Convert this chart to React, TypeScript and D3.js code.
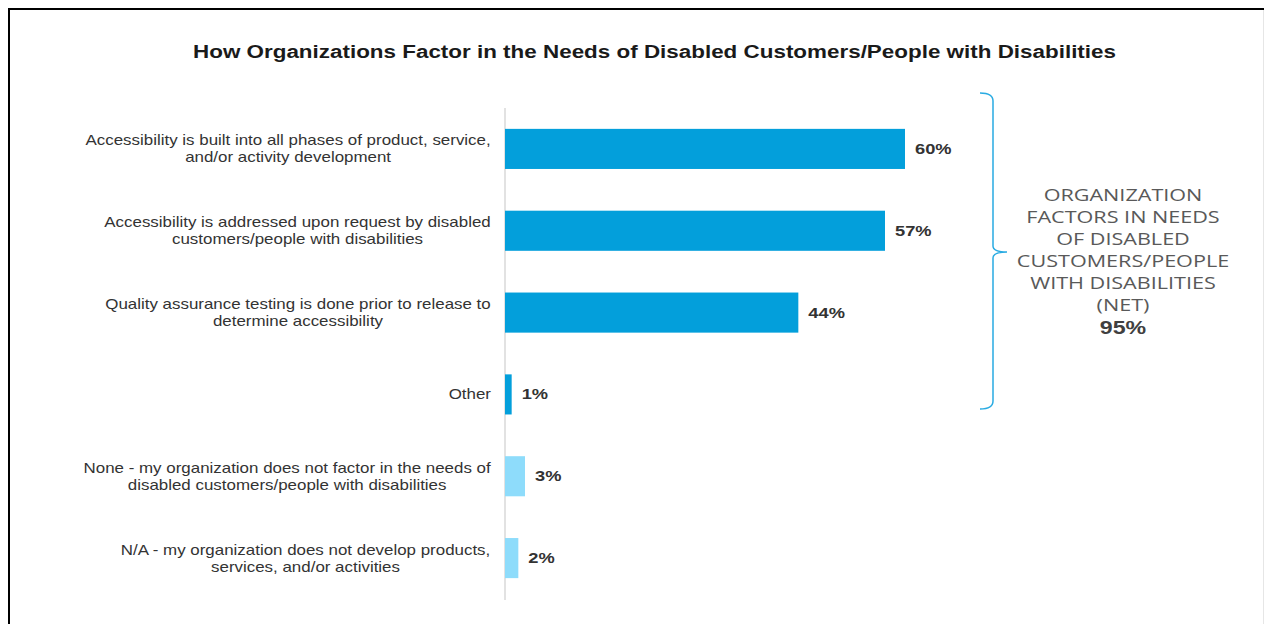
import React from "react";
import * as d3 from "d3";

const categories: string[][] = [
  ["Accessibility is built into all phases of product, service,", "and/or activity development"],
  ["Accessibility is addressed upon request by disabled", "customers/people with disabilities"],
  ["Quality assurance testing is done prior to release to", "determine accessibility"],
  ["Other"],
  ["None - my organization does not factor in the needs of", "disabled customers/people with disabilities"],
  ["N/A - my organization does not develop products,", "services, and/or activities"],
];
const values: number[] = [60, 57, 44, 1, 3, 2];
const isNet: boolean[] = [true, true, true, true, false, false];
const netLines: string[] = ["ORGANIZATION", "FACTORS IN NEEDS", "OF DISABLED", "CUSTOMERS/PEOPLE", "WITH DISABILITIES", "(NET)"];
const netValue = "95%";
const title = "How Organizations Factor in the Needs of Disabled Customers/People with Disabilities";

const W = 1264, H = 624;
const FF = "'Liberation Sans', Arial, sans-serif";
const labelFont = `14px ${FF}`;
const SX = 1.21;

let ctx: CanvasRenderingContext2D | null = null;
function measure(t: string, font: string) {
  if (!ctx) ctx = document.createElement("canvas").getContext("2d");
  if (!ctx) return t.length * 7;
  ctx.font = font;
  return ctx.measureText(t).width;
}

function SText(props: { x: number; y: number; sx: number; anchor?: string; size: number; weight?: string; fill: string; family?: string; children: React.ReactNode }) {
  const { x, y, sx, anchor = "start", size, weight = "normal", fill, family = FF, children } = props;
  return (
    <text transform={`translate(${x},${y}) scale(${sx},1)`} textAnchor={anchor} fontFamily={family} fontSize={size} fontWeight={weight} fill={fill}>
      {children}
    </text>
  );
}

export default function App() {
  const x = d3.scaleLinear().domain([0, 60]).range([505, 905]);
  const y = d3.scaleBand<number>().domain(d3.range(values.length)).range([108, 599]).paddingInner(0.51).paddingOuter(0.255);
  const labelRight = 491;
  const brace = { x: 993, top: 93, bottom: 409, mid: 252 };
  const bracePath = `M${brace.x - 13},${brace.top} Q${brace.x},${brace.top} ${brace.x},${brace.top + 8} L${brace.x},${brace.mid - 6} Q${brace.x},${brace.mid} ${brace.x + 14},${brace.mid} Q${brace.x},${brace.mid} ${brace.x},${brace.mid + 6} L${brace.x},${brace.bottom - 8} Q${brace.x},${brace.bottom} ${brace.x - 13},${brace.bottom}`;
  return (
    <svg width={W} height={H} style={{ position: "absolute", left: 0, top: 0, background: "#fff" }}>
      <line x1={8} y1={9} x2={W} y2={9} stroke="#000" strokeWidth={2} />
      <line x1={9} y1={8} x2={9} y2={H} stroke="#000" strokeWidth={2} />
      <line x1={W - 0.5} y1={10} x2={W - 0.5} y2={H} stroke="#e6e6e6" strokeWidth={1} />
      <text x={193} y={58} textLength={923} lengthAdjust="spacingAndGlyphs" fontFamily={FF} fontWeight="bold" fontSize={18} fill="#1a1a1a">{title}</text>
      <line x1={505} y1={108} x2={505} y2={600} stroke="#d9d9d9" strokeWidth={1.5} />
      {values.map((v, i) => {
        const y0 = y(i)!;
        const bw = y.bandwidth();
        const lines = categories[i];
        const maxW = Math.max(...lines.map((l) => measure(l, labelFont))) * SX;
        const cx = labelRight - maxW / 2;
        const lh = 17;
        const cy = y0 + bw / 2;
        return (
          <g key={i}>
            <rect x={x(0)} y={y0} width={x(v) - x(0)} height={bw} fill={isNet[i] ? "#039FDB" : "#8EDCFB"} />
            <SText x={x(v) + 10} y={cy + 5} sx={1.22} size={15} weight="bold" fill="#333">{v}%</SText>
            {lines.map((l, j) => (
              <SText key={j} x={cx} y={cy + (j - (lines.length - 1) / 2) * lh + 5} sx={SX} anchor="middle" size={14} fill="#333">{l}</SText>
            ))}
          </g>
        );
      })}
      <path d={bracePath} fill="none" stroke="#29ABE2" strokeWidth={1.5} />
      {netLines.map((l, i) => (
        <SText key={i} x={1123} y={201 + i * 22} sx={1.27} anchor="middle" family="'Open Sans', sans-serif" size={17} fill="#595959">{l}</SText>
      ))}
      <SText x={1123} y={201 + netLines.length * 22 + 1} sx={1.22} anchor="middle" weight="bold" size={19} fill="#404040">{netValue}</SText>
    </svg>
  );
}
